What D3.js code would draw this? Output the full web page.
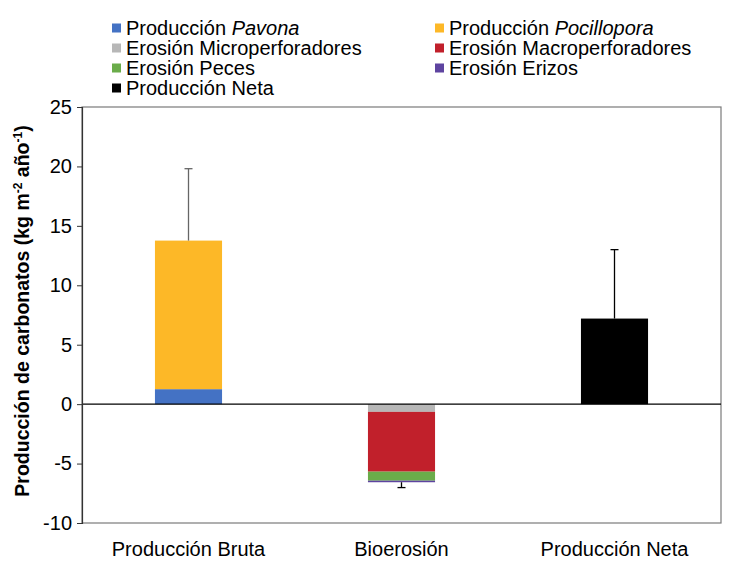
<!DOCTYPE html>
<html>
<head>
<meta charset="utf-8">
<script src="https://cdn.jsdelivr.net/npm/d3@7"></script>
<style>
  body { margin: 0; background: #fff; }
  text { font-family: "Liberation Sans", Arial, sans-serif; }
</style>
</head>
<body>
<svg id="chart" width="737" height="563"></svg>
<script>
// data
var categories = ["Producción Bruta", "Bioerosión", "Producción Neta"];
var seriesNames = ["Pavona", "Pocillopora", "Micro", "Macro", "Peces", "Erizos", "Neta"];
var pavona = [1.26, 0, 0];
var pocillopora = [12.5, 0, 0];
var micro = [0, -0.65, 0];
var macro = [0, -5.03, 0];
var peces = [0, -0.76, 0];
var erizos = [0, -0.13, 0];
var neta = [0, 0, 7.2];
var errors = [6.05, -0.45, 5.8];
var yTicks = [-10, -5, 0, 5, 10, 15, 20, 25];
var legendText = [
  ["Producción ", "Pavona"],
  ["Producción ", "Pocillopora"],
  ["Erosión Microperforadores", ""],
  ["Erosión Macroperforadores", ""],
  ["Erosión Peces", ""],
  ["Erosión Erizos", ""],
  ["Producción Neta", ""]
];

var colors = ["#4472c4", "#fdb827", "#b7b7b7", "#c1202b", "#6aac4a", "#5e44a0", "#000000"];
var values = [pavona, pocillopora, micro, macro, peces, erizos, neta];

var svg = d3.select("#chart");
var margin = { top: 107, right: 16, bottom: 40, left: 82 },
  width = 737 - margin.left - margin.right,
  height = 523 - margin.top;

var x = d3.scaleBand()
  .domain(categories)
  .range([margin.left, margin.left + width])
  .paddingInner(0.685)
  .paddingOuter(0.3425);

var y = d3.scaleLinear().domain([-10, 25]).range([margin.top + height, margin.top]);

// plot box
svg.append("rect")
  .attr("x", margin.left)
  .attr("y", margin.top)
  .attr("width", width)
  .attr("height", height)
  .attr("fill", "none")
  .attr("stroke", "#7a7a7a")
  .attr("stroke-width", 1.2);

// stacked bars, positives and negatives stacked separately
categories.forEach(function (cat, ci) {
  var pos = 0, neg = 0;
  values.forEach(function (vals, si) {
    var v = vals[ci];
    if (v === 0) return;
    var y0, y1;
    if (v > 0) { y0 = pos; y1 = pos + v; pos = y1; }
    else { y0 = neg; y1 = neg + v; neg = y1; }
    svg.append("rect")
      .attr("class", "bar " + seriesNames[si])
      .attr("x", x(cat))
      .attr("width", x.bandwidth())
      .attr("y", y(Math.max(y0, y1)))
      .attr("height", Math.abs(y(y0) - y(y1)))
      .attr("fill", colors[si]);
  });
  var total = pos !== 0 ? pos : neg;
  var cx = x(cat) + x.bandwidth() / 2;
  var err = errors[ci];
  var ec = ci === 0 ? "#666" : "#000";
  svg.append("line")
    .attr("x1", cx).attr("x2", cx)
    .attr("y1", y(total)).attr("y2", y(total + err))
    .attr("stroke", ec).attr("stroke-width", 1.3);
  svg.append("line")
    .attr("x1", cx - 4).attr("x2", cx + 4)
    .attr("y1", y(total + err)).attr("y2", y(total + err))
    .attr("stroke", ec).attr("stroke-width", 1.3);
});

// zero line
svg.append("line")
  .attr("x1", margin.left).attr("x2", margin.left + width)
  .attr("y1", y(0)).attr("y2", y(0))
  .attr("stroke", "#000").attr("stroke-width", 1.4);

// y axis
var yAxis = svg.append("g")
  .attr("transform", "translate(" + margin.left + ",0)")
  .call(d3.axisLeft(y).tickValues(yTicks).tickSize(5).tickPadding(5).tickFormat(d3.format("d")));
yAxis.select(".domain").attr("stroke", "#333").attr("stroke-width", 1.2);
yAxis.selectAll(".tick line").attr("stroke", "#333");
yAxis.selectAll(".tick text")
  .attr("font-size", 20)
  .attr("fill", "#000")
  .style("font-family", "Liberation Sans, Arial, sans-serif")
  .text(function (d) { return d < 0 ? "-" + Math.abs(d) : d; });

// x labels
svg.selectAll(".xlabel")
  .data(categories)
  .enter()
  .append("text")
  .attr("class", "xlabel")
  .attr("x", function (d) { return x(d) + x.bandwidth() / 2; })
  .attr("y", 556)
  .attr("text-anchor", "middle")
  .attr("font-size", 20)
  .attr("fill", "#000")
  .text(function (d) { return d; });

// y title
var title = svg.append("text")
  .attr("transform", "translate(29," + 311 + ") rotate(-90)")
  .attr("text-anchor", "middle")
  .attr("font-size", 19.5)
  .attr("font-weight", "bold")
  .attr("fill", "#000");
title.append("tspan").text("Producción de carbonatos (kg m");
title.append("tspan").attr("font-size", 12).attr("dy", -7).text("-2");
title.append("tspan").attr("dy", 7).text(" año");
title.append("tspan").attr("font-size", 12).attr("dy", -7).text("-1");
title.append("tspan").attr("dy", 7).text(")");

// legend
legendText.forEach(function (t, i) {
  var col = i % 2, row = Math.floor(i / 2);
  var lx = col === 0 ? 112 : 435;
  var ly = 28 + row * 20;
  svg.append("rect")
    .attr("x", lx).attr("y", ly - 4.5)
    .attr("width", 9).attr("height", 9)
    .attr("fill", colors[i]);
  var txt = svg.append("text")
    .attr("x", lx + 14).attr("y", ly + 7)
    .attr("font-size", 20)
    .attr("fill", "#000");
  txt.append("tspan").text(t[0]);
  if (t[1]) txt.append("tspan").attr("font-style", "italic").text(t[1]);
});
</script>
</body>
</html>
